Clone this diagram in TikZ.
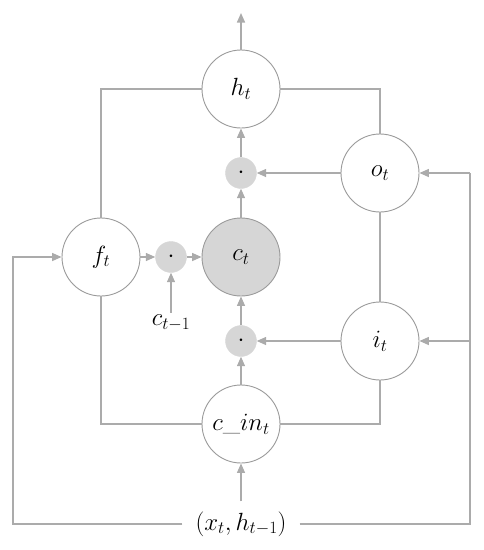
\documentclass[tikz,border=0pt]{standalone}
\usetikzlibrary{arrows.meta}
\definecolor{lnc}{HTML}{ABABAB}
\definecolor{circc}{HTML}{9A9A9A}
\definecolor{cfill}{HTML}{D6D6D6}
\begin{document}
\begin{tikzpicture}[x=1pt,y=-1pt,
  every node/.style={font=\fontsize{25}{29}\selectfont},
  gate/.style={circle,draw=circc,line width=0.9pt,fill=white,minimum size=78pt,inner sep=0pt},
  dotn/.style={circle,fill=cfill,draw=cfill,minimum size=31pt,inner sep=0pt},
  ln/.style={draw=lnc,line width=1.4pt},
  arr/.style={ln,-{Triangle[length=9.5pt,width=8pt]}}]
\useasboundingbox (0,0) rectangle (483,550);
\node[gate] (h) at (241,89) {$h_t$};
\node[gate] (o) at (380,173) {$o_t$};
\node[gate] (f) at (101,257) {$f_t$};
\node[gate,fill=cfill] (c) at (241,257) {$c_t$};
\node[dotn] (d1) at (241,173) {$\cdot$};
\node[dotn] (d2) at (171,257) {$\cdot$};
\node[dotn] (d3) at (241,341) {$\cdot$};
\node[gate] (i) at (380,341) {$i_t$};
\node[gate] (cin) at (241,424) {$c\_in_t$};
\node[inner xsep=13pt,inner ysep=10pt] (x) at (241,524) {$(x_t,h_{t-1})$};
\node[inner sep=2pt] (cp) at (171,323) {$c_{t-1}$};
\coordinate (top) at (241,13);
\coordinate (lb) at (13,524);
\coordinate (lt) at (13,257);
\coordinate (rb) at (470,524);
\coordinate (rt) at (470,173);
\coordinate (ri) at (470,341);
% plain lines
\draw[ln] (f.north) |- (h.west);
\draw[ln] (h.east) -| (o.north);
\draw[ln] (o.south) -- (i.north);
\draw[ln] (i.south) |- (cin.east);
\draw[ln] (f.south) |- (cin.west);
% frame
\draw[arr] (x.west) -- (lb) -- (lt) -- (f.west);
\draw[ln] (x.east) -- (rb) -- (rt);
\draw[arr] (rt) -- (o.east);
\draw[arr] (ri) -- (i.east);
% arrows
\draw[arr] (h.north) -- (top);
\draw[arr] (o.west) -- (d1.east);
\draw[arr] (d1.north) -- (h.south);
\draw[arr] (c.north) -- (d1.south);
\draw[arr] (f.east) -- (d2.west);
\draw[arr] (d2.east) -- (c.west);
\draw[arr] (cp.north) -- (d2.south);
\draw[arr] (d3.north) -- (c.south);
\draw[arr] (cin.north) -- (d3.south);
\draw[arr] (i.west) -- (d3.east);
\draw[arr] (x.north) -- (cin.south);
\end{tikzpicture}
\end{document}
